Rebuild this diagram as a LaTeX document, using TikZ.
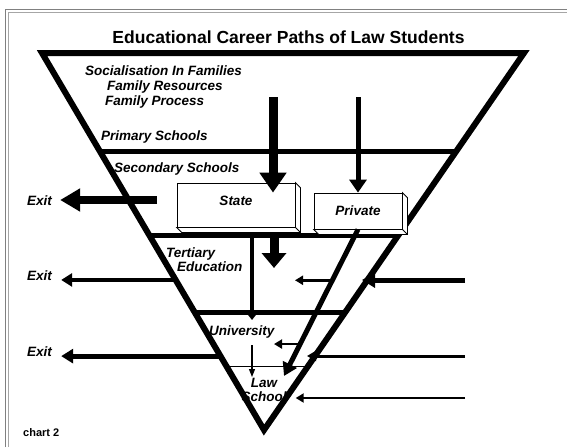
\documentclass[tikz,border=0pt]{standalone}
\usepackage{fontspec}
\setsansfont{Liberation Sans}
\usetikzlibrary{calc,arrows.meta}

\tikzset{
  stage/.style={font=\sffamily\bfseries\itshape\fontsize{13.5}{14}\selectfont, inner sep=0pt},
  slab/.style={draw, fill=white, line width=0.8pt},
  heavy/.style={line width=9pt, -{Triangle[width=26pt,length=20pt]}},
  medium/.style={line width=5pt, -{Triangle[width=15pt,length=13pt]}},
  light/.style={line width=2.5pt, -{Triangle[width=9pt,length=8pt]}},
  fine/.style={line width=1.2pt, -{Triangle[width=6pt,length=8pt]}},
}

\begin{document}
\begin{tikzpicture}[x=1pt,y=-1pt]
\useasboundingbox (0,0) rectangle (567,447);

% page frame
\draw[gray, line width=0.8pt] (5,447) -- (5,9) -- (567,9);
\draw[gray!70, line width=0.5pt] (8,447) -- (8,12) -- (567,12);

\node[font=\sffamily\bfseries\fontsize{17.5}{20}\selectfont, anchor=base] (title) at (288.5,43) {Educational Career Paths of Law Students};

% the funnel and its levels
\coordinate (tl) at (42,53);
\coordinate (tr) at (524,53);
\coordinate (tip) at (264,430);
\draw[line width=6pt, line join=miter] (tl) -- (tr) -- (tip) -- cycle;
\foreach \t in {0.26,0.485,0.687}
  \draw[line width=5pt] ($(tl)!\t!(tip)$) -- ($(tr)!\t!(tip)$);
\draw[line width=0.8pt] ($(tl)!0.83!(tip)$) -- ($(tr)!0.83!(tip)$);

% level labels
\node[stage, anchor=base west] (socialisation) at (85,75) {Socialisation In Families};
\node[stage, anchor=base west] (resources) at (107,90) {Family Resources};
\node[stage, anchor=base west] (process) at (105,105) {Family Process};
\node[stage, anchor=base west] (primary) at (101,140) {Primary Schools};
\node[stage, anchor=base west] (secondary) at (114,172) {Secondary Schools};
\node[stage, align=left, anchor=north west] (tertiary) at (166,248) {Tertiary\\\hspace*{11pt}Education};
\node[stage, anchor=base west] (university) at (209,335) {University};
\node[stage, align=center, anchor=north] (law) at (264,378) {Law\\School};

% state / private schools
\node[slab, stage, minimum width=118pt, minimum height=44pt, text depth=9pt] (state) at (236,205) {State};
\node[slab, stage, minimum width=88pt, minimum height=36pt] (private) at (358,211) {Private};
\foreach \b in {state,private} {
  \filldraw[fill=white, line width=0.8pt] (\b.north east) -- ++(5,5) -- ($(\b.south east)+(5,5)$)
    -- ($(\b.south west)+(5,5)$) -- (\b.south west) -- (\b.south east) -- cycle;
  \draw[line width=0.8pt] (\b.south east) -- ++(5,5);
}

% exits
\node[stage, anchor=base west] (exit1) at (27,205) {Exit};
\node[stage, anchor=base west] (exit2) at (27,280.5) {Exit};
\node[stage, anchor=base west] (exit3) at (27,356.5) {Exit};
\node[font=\sffamily\bfseries\fontsize{11}{13}\selectfont, anchor=base west, inner sep=0pt] (chart) at (23,436) {chart 2};

\coordinate (drop1) at (157,200);
\path ($(tl)!0.602!(tip)$) coordinate (drop2);
\path ($(tl)!0.804!(tip)$) coordinate (drop3);
\draw[line width=8pt, -{Triangle[width=22pt,length=20pt]}, shorten >=8pt] (drop1) -- (exit1.east |- drop1);
\draw[line width=4.5pt, -{Triangle[width=13pt,length=11pt]}, shorten >=9pt] (drop2) -- (exit2.east |- drop2);
\draw[line width=5pt, -{Triangle[width=14pt,length=12pt]}, shorten >=9pt] (drop3) -- (exit3.east |- drop3);

% paths through the schools
\coordinate (stateIn) at (273,97);
\coordinate (privateIn) at (358,97);
\coordinate (tertIn) at (274,268);
\coordinate (uniIn) at (252,320);
\coordinate (lawIn) at (252,377);
\coordinate (lawPriv) at (284,376);
\draw[heavy] (stateIn) -- ($(stateIn |- state.north)+(0,10)$);
\draw[medium, -{Triangle[width=17pt,length=13pt]}] (privateIn) -- (private.north);
\draw[heavy, -{Triangle[width=24pt,length=15pt]}] ($(tertIn |- state.south)+(0,5)$) -- (tertIn);
\draw[line width=4pt, -{Triangle[width=12pt,length=8pt]}] ($(uniIn |- state.south)+(0,5)$) -- (uniIn);
\draw[fine, shorten <=7pt] (lawIn |- university.south) -- (lawIn);
\draw[medium] (private.south) -- (lawPriv);

% side entries
\coordinate (tertBranch) at (295,280);
\coordinate (uniBranch) at (274,344);
\path ($(private.south)!0.347!(lawPriv)$) coordinate (tertFork);
\path ($(private.south)!0.782!(lawPriv)$) coordinate (uniFork);
\draw[light] (tertFork) -- (tertFork -| tertBranch);
\draw[light] (uniFork) -- (uniFork -| uniBranch);

\coordinate (r1) at (465,280);
\coordinate (r1tip) at (362,280);
\coordinate (r2) at (465,356);
\coordinate (r2tip) at (307,356);
\coordinate (r3) at (465,398);
\draw[medium] (r1) -- (r1tip);
\draw[line width=3pt, -{Triangle[width=10pt,length=9pt]}] (r2) -- (r2tip);
\draw[light, shorten >=9pt] (r3) -- (law.east |- r3);
\end{tikzpicture}
\end{document}
